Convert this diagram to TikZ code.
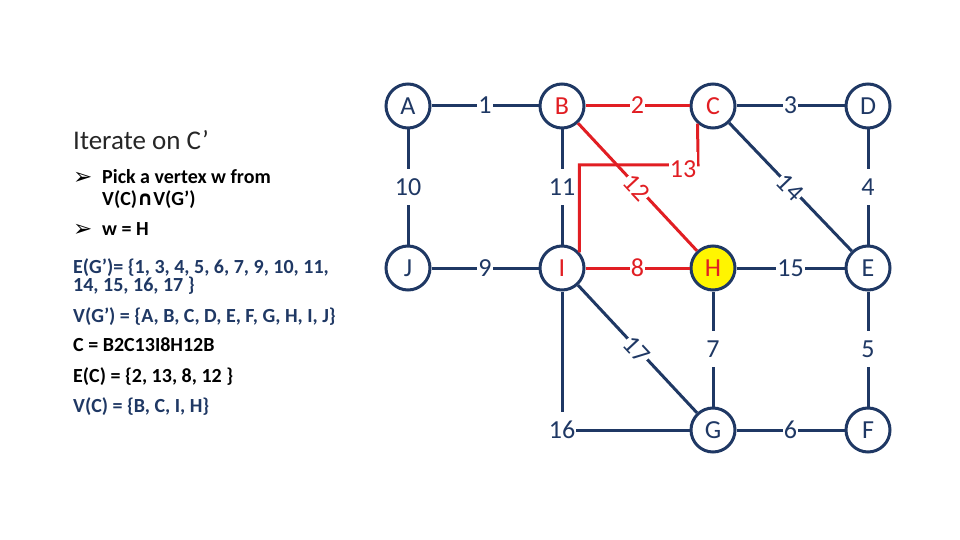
\documentclass[tikz,border=0pt]{standalone}
\usepackage{fontspec}
\setmainfont{Carlito}
\newfontfamily\symfont{DejaVu Sans}
\definecolor{navy}{RGB}{31,56,100}
\definecolor{cyclered}{RGB}{225,30,35}
\definecolor{hilite}{RGB}{255,245,0}
\tikzset{
  vertex/.style={circle, draw=navy, line width=3pt, fill=white, minimum size=44pt,
    inner sep=0pt, font=\fontsize{26}{26}\selectfont, text=navy},
  edge/.style={navy, line width=3pt},
  cycle/.style={cyclered, line width=3pt},
  weight/.style={fill=white, inner xsep=1pt, inner ysep=0pt, text height=26pt,
    text depth=10pt, font=\fontsize{26}{26}\selectfont, text=navy},
  slantweight/.style={weight, text height=19pt, text depth=1pt},
  listline/.style={anchor=base west, inner sep=0pt, font=\fontsize{20}{20}\selectfont\bfseries},
  bullet/.style={anchor=base west, inner sep=0pt, font=\fontsize{23}{23}\selectfont\symfont},
}
\begin{document}
\begin{tikzpicture}[x=1pt,y=-1pt]
  \useasboundingbox (0,0) rectangle (960,540);

  % Text on the left
  \node[anchor=base west, inner sep=0pt, font=\fontsize{27}{27}\selectfont, text=black!85] (title) at (73,150) {Iterate on C’};
  \node[bullet] (arrow1) at (73,184) {➢};
  \node[listline] (pick) at (102,183) {Pick a vertex w from};
  \node[listline] (pick2) at (102,205) {V(C){\symfont∩}V(G’)};
  \node[bullet] (arrow2) at (73,236) {➢};
  \node[listline] (pickw) at (102,235) {w = H};
  \node[listline, text=navy] (eg1) at (73,273) {E(G’)= \{1, 3, 4, 5, 6, 7, 9, 10, 11,};
  \node[listline, text=navy] (eg2) at (73,291) {14, 15, 16, 17 \}};
  \node[listline, text=navy] (vg) at (73,322) {V(G’) = \{A, B, C, D, E, F, G, H, I, J\}};
  \node[listline] (cyc) at (73,351) {C = B2C13I8H12B};
  \node[listline] (ec) at (73,382) {E(C) = \{2, 13, 8, 12 \}};
  \node[listline, text=navy] (vc) at (73,412) {V(C) = \{B, C, I, H\}};

  % Vertices
  \node[vertex] (A) at (408,106) {A};
  \node[vertex, text=cyclered] (B) at (562,106) {B};
  \node[vertex, text=cyclered] (C) at (713,106) {C};
  \node[vertex] (D) at (868,106) {D};
  \node[vertex] (J) at (408,268) {J};
  \node[vertex, text=cyclered] (I) at (562,268) {I};
  \node[vertex, fill=hilite, text=cyclered] (H) at (713,268) {H};
  \node[vertex] (E) at (868,268) {E};
  \node[vertex] (G) at (713,430) {G};
  \node[vertex] (F) at (868,430) {F};

  % Cycle edges (red)
  \coordinate (k13) at (698,165);
  \draw[cycle] (I.42) |- (k13) -- (C.229);
  \node[weight, text=cyclered] (w13) at (683,170) {13};
  \draw[cycle] (B) -- node[weight, text=cyclered] {2} (C);
  \draw[cycle] (B) -- node[slantweight, text=cyclered, rotate=-47] {12} (H);
  \draw[cycle] (I) -- node[weight, text=cyclered] {8} (H);

  % Remaining edges
  \draw[edge] (A) -- node[weight] {1} (B);
  \draw[edge] (C) -- node[weight] {3} (D);
  \draw[edge] (A) -- node[weight] {10} (J);
  \draw[edge] (B) -- node[weight] {11} (I);
  \draw[edge] (D) -- node[weight] {4} (E);
  \draw[edge] (C) -- node[slantweight, rotate=-46] {14} (E);
  \draw[edge] (J) -- node[weight] {9} (I);
  \draw[edge] (H) -- node[weight] {15} (E);
  \draw[edge] (H) -- node[weight] {7} (G);
  \draw[edge] (E) -- node[weight] {5} (F);
  \draw[edge] (G) -- node[weight] {6} (F);
  \draw[edge] (I) -- node[slantweight, rotate=-47] {17} (G);
  \draw[edge] (I) |- node[weight] {16} (G);
\end{tikzpicture}
\end{document}
